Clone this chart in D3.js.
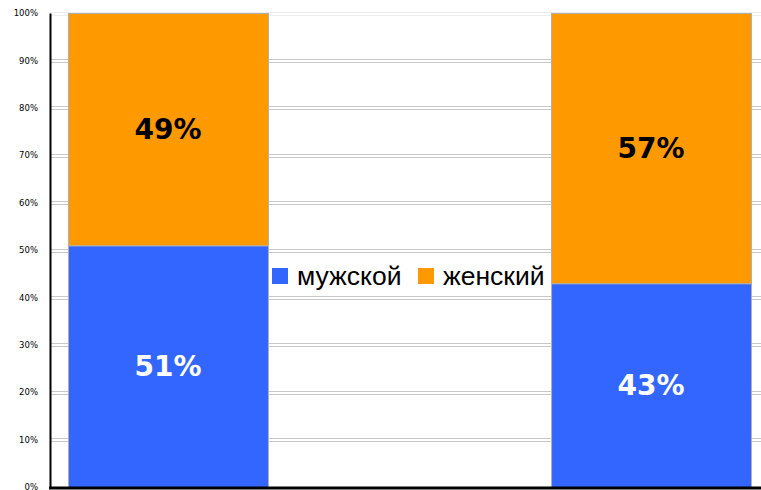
<!DOCTYPE html>
<html>
<head>
<meta charset="utf-8">
<script src="https://cdn.jsdelivr.net/npm/d3@7"></script>
<style>
  body { margin: 0; background: #fff; }
</style>
</head>
<body>
<div id="chart"></div>
<script>
const groups = ["A", "B"];
const series = ["мужской", "женский"];
const male = [51, 43];
const female = [49, 57];
const tickValues = [0, 10, 20, 30, 40, 50, 60, 70, 80, 90, 100];
const colors = ["#3366ff", "#ff9900"];

const W = 761, H = 490;
const plotLeft = 50, plotTop = 13, plotBottom = 487;

const svg = d3.select("#chart").append("svg")
    .attr("width", W)
    .attr("height", H);

const x = d3.scaleBand()
    .domain(groups)
    .range([plotLeft, 769])
    .paddingInner(0.586)
    .paddingOuter(0.0373);

const y = d3.scaleLinear()
    .domain([0, 100])
    .range([plotBottom, plotTop]);

// gridlines (double light grey)
svg.append("g")
    .selectAll("rect")
    .data(tickValues.filter(d => d > 0))
    .enter().append("rect")
    .attr("x", plotLeft)
    .attr("y", d => y(d) - 1)
    .attr("width", W - plotLeft)
    .attr("height", 3)
    .attr("fill", "none")
    .attr("stroke", d => d === 100 ? "#ececec" : "#c8c8c8")
    .attr("stroke-width", 1)
    .attr("shape-rendering", "crispEdges");

// stacked data
const stacked = groups.map((g, i) => [
    { key: series[0], y0: 0, y1: male[i], g: g, v: male[i] },
    { key: series[1], y0: male[i], y1: male[i] + female[i], g: g, v: female[i] }
]).flat();

svg.append("g")
    .selectAll("rect")
    .data(stacked)
    .enter().append("rect")
    .attr("x", d => x(d.g) + 0.5)
    .attr("y", d => y(d.y1) + 0.5)
    .attr("width", x.bandwidth())
    .attr("height", d => y(d.y0) - y(d.y1))
    .attr("fill", d => colors[series.indexOf(d.key)])
    .attr("stroke", "#b0b0b0")
    .attr("stroke-width", 1);

svg.append("g")
    .selectAll("text")
    .data(stacked)
    .enter().append("text")
    .attr("x", d => x(d.g) + x.bandwidth() / 2)
    .attr("y", d => (y(d.y0) + y(d.y1)) / 2)
    .attr("dy", "0.36em")
    .attr("text-anchor", "middle")
    .style("font-family", "'DejaVu Sans', Verdana, sans-serif")
    .style("font-weight", "bold")
    .style("font-size", "28px")
    .attr("fill", d => d.key === series[0] ? "#ffffff" : "#000000")
    .text(d => d.v + "%");

// y axis
const yAxis = svg.append("g")
    .attr("transform", "translate(" + plotLeft + ",0)")
    .call(d3.axisLeft(y).tickValues(tickValues).tickSize(0).tickPadding(12).tickFormat(d => d + "%"));
yAxis.select(".domain").attr("stroke", "#000").attr("stroke-width", 2);
yAxis.selectAll("text")
    .style("font-family", "'DejaVu Sans', Verdana, sans-serif")
    .style("font-size", "8.5px")
    .attr("fill", "#000");

// x axis line
svg.append("line")
    .attr("x1", plotLeft - 1)
    .attr("x2", W)
    .attr("y1", plotBottom + 1)
    .attr("y2", plotBottom + 1)
    .attr("stroke", "#000")
    .attr("stroke-width", 3);

// legend
const legend = svg.append("g").attr("transform", "translate(272,276)");
const legendX = [0, 146];
series.forEach((s, i) => {
    legend.append("rect")
        .attr("x", legendX[i])
        .attr("y", -8)
        .attr("width", 16)
        .attr("height", 16)
        .attr("fill", colors[i]);
    legend.append("text")
        .attr("x", legendX[i] + 25)
        .attr("y", 0)
        .attr("dy", "0.35em")
        .style("font-family", "'Liberation Sans', Arial, sans-serif")
        .style("font-size", "26.5px")
        .text(s);
});
</script>
</body>
</html>
